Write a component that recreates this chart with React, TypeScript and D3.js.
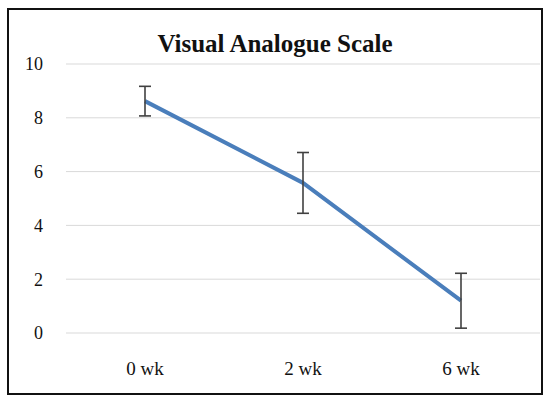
import { useRef, useEffect } from "react"
import * as d3 from "d3"

const categories = ["0 wk", "2 wk", "6 wk"]
const values = [8.62, 5.58, 1.2]
const errors = [0.55, 1.13, 1.02]
const yTicks = [0, 2, 4, 6, 8, 10]

const width = 550
const height = 403
const font = "'Liberation Serif', 'Times New Roman', 'DejaVu Serif', serif"

export default function App() {
  const svgRef = useRef<SVGSVGElement>(null)

  useEffect(() => {
    if (!svgRef.current) return
    const svg = d3.select(svgRef.current)
    svg.selectAll("*").remove()

    const x = d3.scaleBand<string>().domain(categories).range([66, 540]).padding(0)
    const y = d3.scaleLinear().domain([0, 10]).range([333, 64])
    const cx = (c: string) => (x(c) ?? 0) + x.bandwidth() / 2

    // background + frame
    svg.append("rect").attr("x", 0).attr("y", 0).attr("width", width).attr("height", height).attr("fill", "#fff")
    svg
      .append("rect")
      .attr("x", 8)
      .attr("y", 9)
      .attr("width", 534)
      .attr("height", 385)
      .attr("fill", "none")
      .attr("stroke", "#111")
      .attr("stroke-width", 2)

    // gridlines
    svg
      .append("g")
      .selectAll("line")
      .data(yTicks)
      .join("line")
      .attr("x1", 66)
      .attr("x2", 540)
      .attr("y1", (d) => y(d))
      .attr("y2", (d) => y(d))
      .attr("stroke", "#d9d9d9")
      .attr("stroke-width", 1)

    // y tick labels
    svg
      .append("g")
      .selectAll("text")
      .data(yTicks)
      .join("text")
      .attr("x", 43)
      .attr("y", (d) => y(d))
      .attr("dy", "0.35em")
      .attr("text-anchor", "end")
      .attr("font-family", font)
      .attr("font-size", 18)
      .attr("fill", "#111")
      .text((d) => d)

    // x labels
    svg
      .append("g")
      .selectAll("text")
      .data(categories)
      .join("text")
      .attr("x", (d) => cx(d))
      .attr("y", 375)
      .attr("text-anchor", "middle")
      .attr("font-family", font)
      .attr("font-size", 19)
      .attr("fill", "#111")
      .text((d) => d)

    // line
    const line = d3
      .line<number>()
      .x((d, i) => cx(categories[i]))
      .y((d) => y(d))
    svg
      .append("path")
      .datum(values)
      .attr("fill", "none")
      .attr("stroke", "#4a7ebb")
      .attr("stroke-width", 4)
      .attr("stroke-linejoin", "round")
      .attr("d", line)

    // error bars
    const eb = svg.append("g").attr("stroke", "#404040").attr("stroke-width", 1.6)
    values.forEach((v, i) => {
      const px = cx(categories[i])
      const top = y(v + errors[i])
      const bot = y(v - errors[i])
      eb.append("line").attr("x1", px).attr("x2", px).attr("y1", top).attr("y2", bot)
      eb.append("line").attr("x1", px - 6).attr("x2", px + 6).attr("y1", top).attr("y2", top)
      eb.append("line").attr("x1", px - 6).attr("x2", px + 6).attr("y1", bot).attr("y2", bot)
    })

    // title
    svg
      .append("text")
      .attr("x", 275)
      .attr("y", 52)
      .attr("text-anchor", "middle")
      .attr("font-family", font)
      .attr("font-weight", "bold")
      .attr("font-size", 25)
      .attr("fill", "#111")
      .text("Visual Analogue Scale")
  }, [])

  return (
    <svg
      ref={svgRef}
      width={width}
      height={height}
      viewBox={`0 0 ${width} ${height}`}
      style={{ position: "absolute", left: 0, top: 0, display: "block" }}
    />
  )
}
